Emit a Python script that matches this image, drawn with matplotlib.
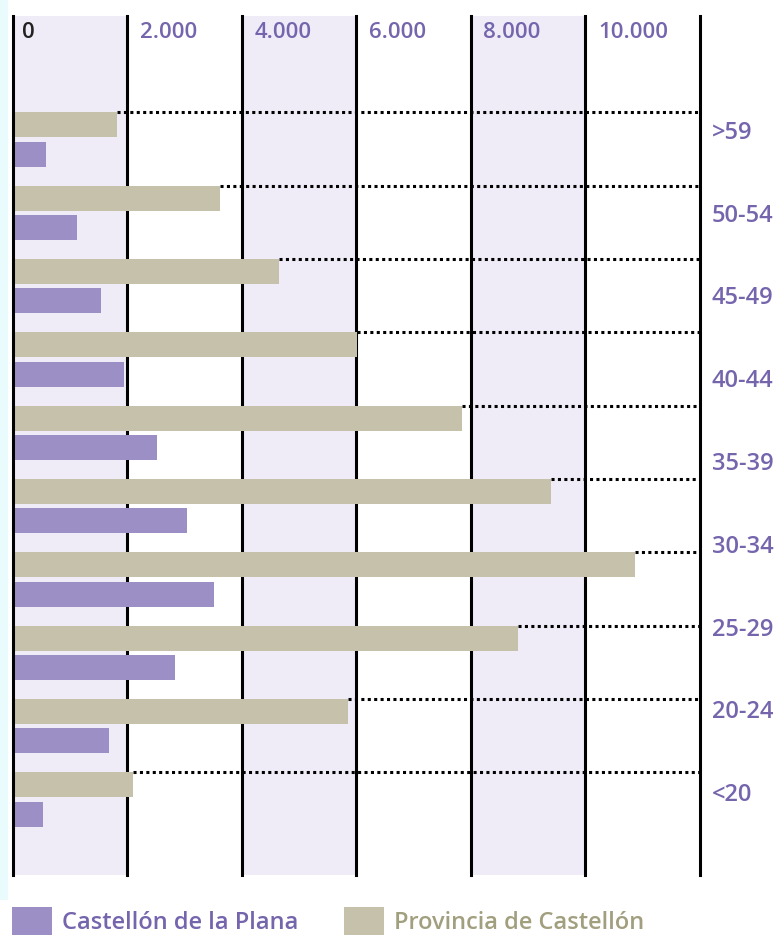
import numpy as np
import matplotlib

matplotlib.use("Agg")
import matplotlib.pyplot as plt
from matplotlib.patches import Rectangle

# age groups, top to bottom (the original chart shows 10 bar pairs but only 9 labels)
GROUP_LABELS = [">59", "50-54", "45-49", "40-44", "35-39", "30-34", "25-29", "20-24", "<20"]
PROVINCIA = [1830, 3620, 4660, 6010, 7840, 9400, 10870, 8820, 5850, 2100]
CASTELLON = [590, 1120, 1540, 1940, 2520, 3040, 3510, 2830, 1680, 540]
XTICKS = [0, 2000, 4000, 6000, 8000, 10000, 12000]
XTICK_LABELS = ["0", "2.000", "4.000", "6.000", "8.000", "10.000", ""]
SERIES_NAMES = ["Castellón de la Plana", "Provincia de Castellón"]

PURPLE = "#9c8fc6"
BEIGE = "#c5c1aa"
BAND = "#efecf8"
TEXT_PURPLE = "#7565ad"
TEXT_OLIVE = "#a19f7e"

plt.rcParams["font.family"] = ["Open Sans", "DejaVu Sans"]

W, H = 783, 935
fig = plt.figure(figsize=(W / 100, H / 100), dpi=100)
fig.patch.set_facecolor("white")

# faint strip of the page background on the left edge
fig.patches.append(Rectangle((0, 1 - 900 / H), 8 / W, 900 / H, transform=fig.transFigure,
                             facecolor="#eafbfe", edgecolor="none", zorder=0))

ax = fig.add_axes([12.5 / W, 1 - 875 / H, (700 - 12.5) / W, (875 - 16) / H])
ax.set_xlim(0, 12000)
ax.set_ylim(10.03, -1.685)
ax.axis("off")

# alternating shaded bands
for lo in XTICKS[:-1:2]:
    ax.axvspan(lo, lo + 2000, color=BAND, lw=0, zorder=0)

for v in XTICKS:
    ax.axvline(v, color="black", lw=2.2, zorder=5 if v == 0 else 1, clip_on=False)

idx = np.arange(len(PROVINCIA))
bh = 0.34
ax.barh(idx - 0.2, PROVINCIA, height=bh, color=BEIGE, zorder=3, label=SERIES_NAMES[1])
ax.barh(idx + 0.2, CASTELLON, height=bh, color=PURPLE, zorder=3, label=SERIES_NAMES[0])

# dotted leaders from the end of each province bar to the right edge
ax.hlines(idx - 0.2 - bh / 2, PROVINCIA, 12000, colors="black", lw=2.2,
          linestyles=(0, (1.0, 1.1)), zorder=4)

for v, lab in zip(XTICKS, XTICK_LABELS):
    ax.annotate(lab, xy=(v, 1), xycoords=("data", "axes fraction"),
                xytext=(7 if v == 0 else 9, -12), textcoords="offset points",
                ha="left", va="center", fontsize=16, fontweight="semibold",
                color="#222222" if v == 0 else TEXT_PURPLE)

label_y = np.linspace(-0.09, 8.94, len(GROUP_LABELS))
for y, lab in zip(label_y, GROUP_LABELS):
    ax.annotate(lab, xy=(12000, y), xycoords="data", xytext=(8.5, 0),
                textcoords="offset points", ha="left", va="center",
                fontsize=17, fontweight="semibold", color=TEXT_PURPLE,
                annotation_clip=False)

handles, labels = ax.get_legend_handles_labels()
leg = fig.legend(handles[::-1], labels[::-1], loc="lower left",
                 bbox_to_anchor=(-9 / W, -22 / H), ncol=2, frameon=False,
                 prop={"size": 17, "weight": "semibold"},
                 handlelength=1.7, handleheight=1.5,
                 handletextpad=0.42, columnspacing=1.9,
                 labelcolor=[TEXT_PURPLE, TEXT_OLIVE])

fig.savefig("out.png", dpi=100, facecolor=fig.get_facecolor())
